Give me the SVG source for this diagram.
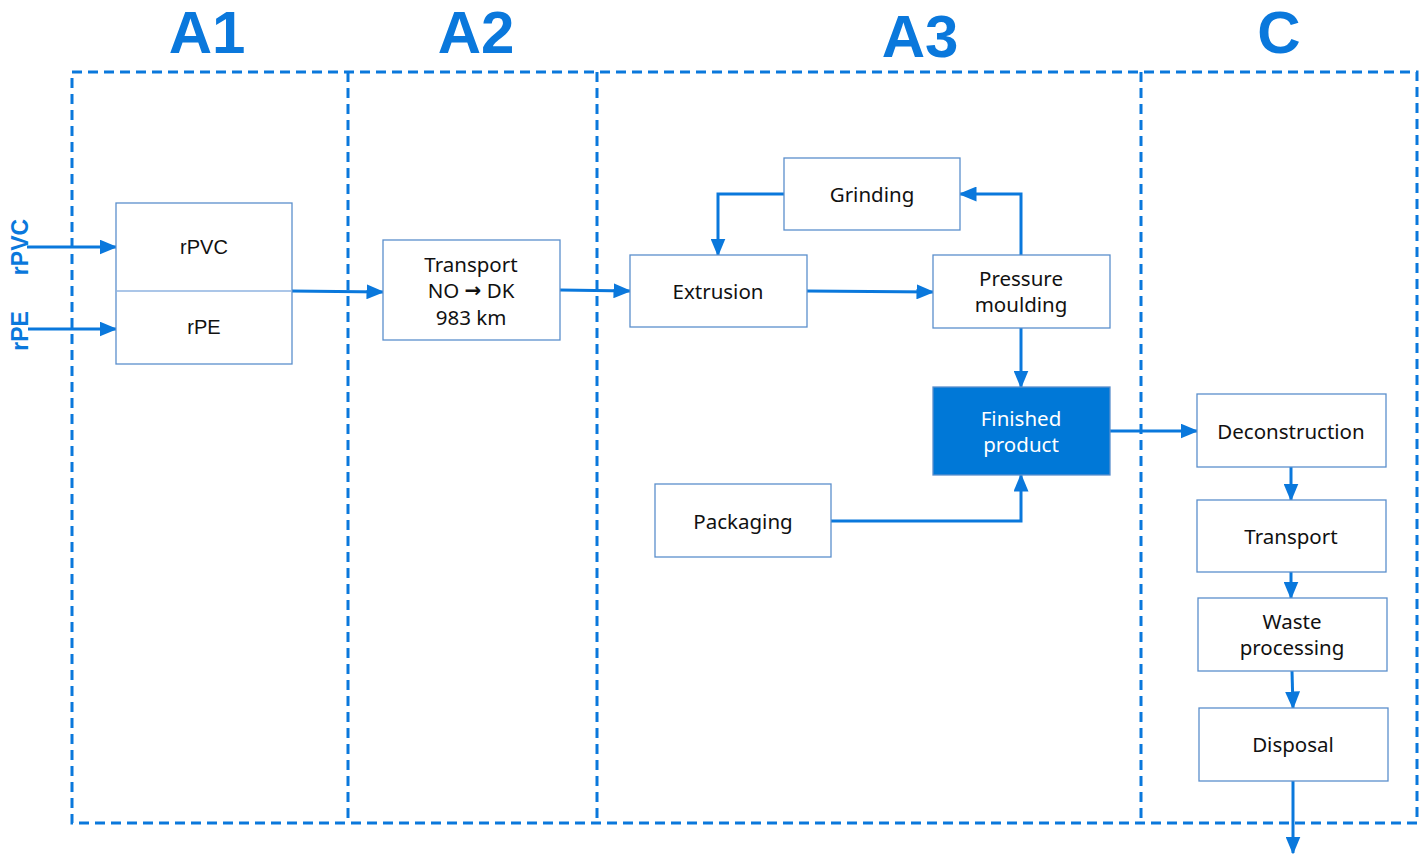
<svg xmlns="http://www.w3.org/2000/svg" width="1427" height="854" viewBox="0 0 1427 854">
<style>
.frame{fill:none;stroke:#0A78DC;stroke-width:3;stroke-dasharray:10 6}
.box{fill:#fff;stroke:#5B8FCC;stroke-width:1.3}
.fill{fill:#0078D7;stroke:#5B8FCC;stroke-width:1.3}
.t{font-family:"Noto Sans","Open Sans",sans-serif;font-size:20.5px;fill:#111;text-anchor:middle;dominant-baseline:central}
.ta{font-family:"Liberation Sans",Arial,sans-serif;font-size:20px;fill:#111;text-anchor:middle;dominant-baseline:central}
.w{fill:#fff}
.arr{font-family:"DejaVu Sans",sans-serif;font-weight:bold;font-size:20px}
.title{font-family:"Liberation Sans",Arial,sans-serif;font-weight:bold;font-size:60px;fill:#0A78DC;text-anchor:middle}
.side{font-family:"Liberation Sans",Arial,sans-serif;font-weight:bold;font-size:23px;fill:#0A78DC;text-anchor:middle;dominant-baseline:central}
.c{fill:none;stroke:#0A78DC;stroke-width:3;marker-end:url(#ah)}
</style>
<defs>
<marker id="ah" markerWidth="6" markerHeight="5" refX="5.5" refY="2.5" orient="auto" markerUnits="strokeWidth">
<path d="M0,0 L6,2.5 L0,5 Z" fill="#0A78DC"/>
</marker>
</defs>
<rect width="1427" height="854" fill="#fff"/>
<g id="frames">
<rect class="frame" x="72" y="72" width="1345" height="751"/>
<line class="frame" x1="348" y1="72" x2="348" y2="823"/>
<line class="frame" x1="597" y1="72" x2="597" y2="823"/>
<line class="frame" x1="1141" y1="72" x2="1141" y2="823"/>
</g>
<g id="titles">
<text class="title" x="207" y="53">A1</text>
<text class="title" x="476" y="53">A2</text>
<text class="title" x="920" y="57">A3</text>
<text class="title" x="1279" y="53">C</text>
<text class="side" transform="translate(20,247) rotate(-90)">rPVC</text>
<text class="side" transform="translate(20,331) rotate(-90)">rPE</text>
</g>
<g id="connectors">
<line class="c" x1="27" y1="247" x2="116" y2="247"/>
<line class="c" x1="28" y1="329" x2="116" y2="329"/>
<line class="c" x1="291" y1="291" x2="383" y2="292"/>
<line class="c" x1="560" y1="290" x2="630" y2="291"/>
<line class="c" x1="807" y1="291" x2="933" y2="292"/>
<polyline class="c" points="784,194 718,194 718,255"/>
<polyline class="c" points="1021,255 1021,194 960,194"/>
<line class="c" x1="1021" y1="328" x2="1021" y2="387"/>
<polyline class="c" points="831,521 1021,521 1021,475"/>
<line class="c" x1="1110" y1="431" x2="1197" y2="431"/>
<line class="c" x1="1291" y1="467" x2="1291" y2="500"/>
<line class="c" x1="1291" y1="572" x2="1291" y2="598"/>
<line class="c" x1="1292" y1="671" x2="1293" y2="708"/>
<line class="c" x1="1293" y1="781" x2="1293" y2="853"/>
</g>
<g id="node-raw">
<rect class="box" x="116" y="203" width="176" height="161"/>
<line x1="116" y1="291" x2="292" y2="291" stroke="#8FB3E0" stroke-width="1.3"/>
<text class="ta" x="204" y="247">rPVC</text>
<text class="ta" x="204" y="327">rPE</text>
</g>
<g id="node-transport-a2">
<rect class="box" x="383" y="240" width="177" height="100"/>
<text class="t" x="471" y="264">Transport</text>
<text class="t" x="471" y="290">NO <tspan class="arr">→</tspan> DK</text>
<text class="t" x="471" y="317">983 km</text>
</g>
<g id="node-extrusion">
<rect class="box" x="630" y="255" width="177" height="72"/>
<text class="t" x="718" y="291">Extrusion</text>
</g>
<g id="node-grinding">
<rect class="box" x="784" y="158" width="176" height="72"/>
<text class="t" x="872" y="194">Grinding</text>
</g>
<g id="node-pressure">
<rect class="box" x="933" y="255" width="177" height="73"/>
<text class="t" x="1021" y="278">Pressure</text>
<text class="t" x="1021" y="304">moulding</text>
</g>
<g id="node-finished">
<rect class="fill" x="933" y="387" width="177" height="88"/>
<text class="t w" x="1021" y="418">Finished</text>
<text class="t w" x="1021" y="444">product</text>
</g>
<g id="node-packaging">
<rect class="box" x="655" y="484" width="176" height="73"/>
<text class="t" x="743" y="521">Packaging</text>
</g>
<g id="node-deconstruction">
<rect class="box" x="1197" y="394" width="189" height="73"/>
<text class="t" x="1291" y="431">Deconstruction</text>
</g>
<g id="node-transport-c">
<rect class="box" x="1197" y="500" width="189" height="72"/>
<text class="t" x="1291" y="536">Transport</text>
</g>
<g id="node-waste">
<rect class="box" x="1198" y="598" width="189" height="73"/>
<text class="t" x="1292" y="621">Waste</text>
<text class="t" x="1292" y="647">processing</text>
</g>
<g id="node-disposal">
<rect class="box" x="1199" y="708" width="189" height="73"/>
<text class="t" x="1293" y="744">Disposal</text>
</g>
</svg>
